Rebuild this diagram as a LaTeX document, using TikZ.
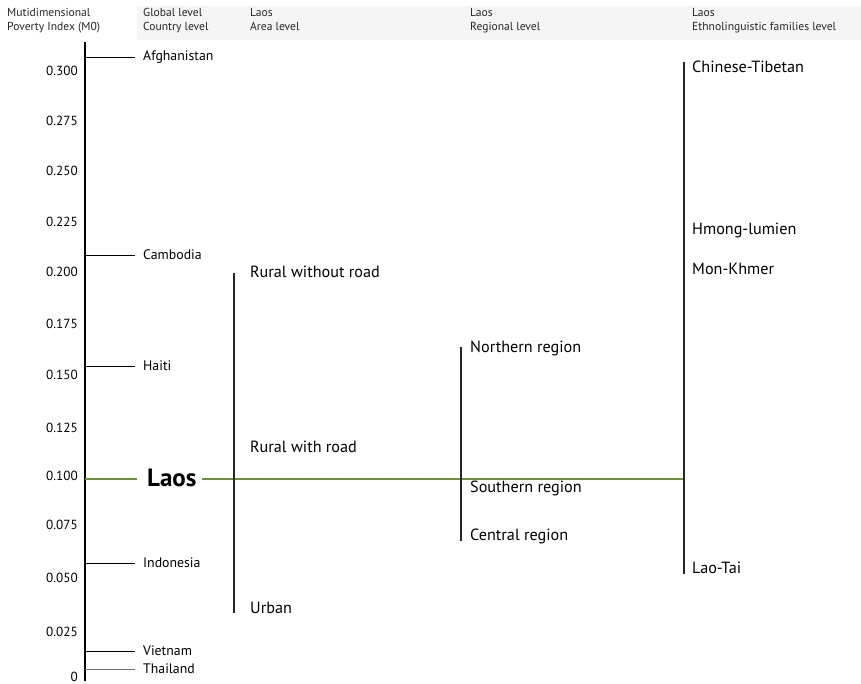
\documentclass[tikz,border=0pt]{standalone}
\usepackage{fontspec}
\setmainfont{PT Sans}
\begin{document}
\begin{tikzpicture}[x=1pt,y=-1pt,
  hdr/.style={anchor=north west,inner sep=0pt,font=\fontsize{11.6}{14}\selectfont,align=left,text=black!85},
  tick/.style={anchor=east,inner sep=0pt,font=\fontsize{13.2}{15}\selectfont},
  ctry/.style={anchor=west,inner sep=0pt,font=\fontsize{13.8}{16}\selectfont},
  grp/.style={anchor=west,inner sep=0pt,font=\fontsize{16.2}{18}\selectfont},
  ctick/.style={line width=0.9pt},
  vline/.style={line width=2.6pt,black!85},
  laosline/.style={line width=2.6pt,color=laosgreen}]
\definecolor{laosgreen}{RGB}{110,145,55}
\useasboundingbox (0,0) rectangle (861,684);
\fill[black!4] (137,6) rectangle (861,40);
% headers
\node[hdr] (h0) at (7,8) {Mutidimensional\\Poverty Index (M0)};
\node[hdr] (h1) at (143,8) {Global level\\Country level};
\node[hdr] (h2) at (250,8) {Laos\\Area level};
\node[hdr] (h3) at (470,8) {Laos\\Regional level};
\node[hdr] (h4) at (692,8) {Laos\\Ethnolinguistic families level};
% axis
\coordinate (axtop) at (85,42);
\coordinate (axbot) at (85,681);
\draw[line width=1.2pt] (axtop) -- (axbot);
\foreach \v/\y in {0.300/71,0.275/121,0.250/171,0.225/222,0.200/272,0.175/324,0.150/375,0.125/428,0.100/476,0.075/525,0.050/578,0.025/632}
  \node[tick] (t\y) at (78,\y) {\v};
\node[tick] (t0) at (78,677) {0};
% countries
\foreach \n/\lab/\y in {afg/Afghanistan/57,cam/Cambodia/255,hai/Haiti/366,ind/Indonesia/563,vie/Vietnam/651}{
  \node[ctry] (\n) at (143,\y) {\lab};
  \coordinate (a\n) at (85,\y);
  \draw[ctick] (a\n) -- ([xshift=-8pt]\n.west);
}
\node[ctry] (tha) at (143,669) {Thailand};
\coordinate (atha) at (85,669);
\draw[ctick,black!55] (atha) -- ([xshift=-8pt]tha.west);
% Laos
\node[anchor=west,inner sep=0pt,font=\fontsize{25}{27}\selectfont\bfseries] (laos) at (147,478) {Laos};
\coordinate (alaos) at (85,479);
\coordinate (elaos) at (685,479);
\draw[laosline] (alaos) -- ([xshift=-10pt]laos.west |- alaos);
\draw[laosline] ([xshift=5pt]laos.east |- alaos) -- (elaos);
% area level
\coordinate (ar1) at (234,273);
\coordinate (ar2) at (234,613);
\draw[vline] (ar1) -- (ar2);
\node[grp] (rwo) at (250,272) {Rural without road};
\node[grp] (rw) at (250,447) {Rural with road};
\node[grp] (urb) at (250,608) {Urban};
% regional
\coordinate (rg1) at (461,347);
\coordinate (rg2) at (461,541);
\draw[vline] (rg1) -- (rg2);
\node[grp] (nor) at (470,348) {Northern region};
\node[grp] (sou) at (470,488) {Southern region};
\node[grp] (cen) at (470,536) {Central region};
% ethnolinguistic
\coordinate (et1) at (684,62);
\coordinate (et2) at (684,574);
\draw[vline] (et1) -- (et2);
\node[grp] (cht) at (692,67) {Chinese-Tibetan};
\node[grp] (hml) at (692,230) {Hmong-lumien};
\node[grp] (mkh) at (692,269) {Mon-Khmer};
\node[grp] (lat) at (692,568) {Lao-Tai};
\end{tikzpicture}
\end{document}
